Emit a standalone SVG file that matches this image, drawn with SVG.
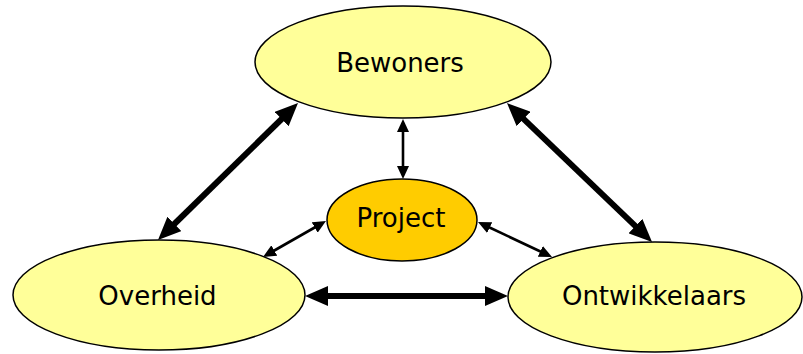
<svg xmlns="http://www.w3.org/2000/svg" width="803" height="354" viewBox="0 0 803 354">
<defs>
<style>
.node ellipse{stroke:#000;stroke-width:1.5}
.outer ellipse{fill:#FFFF99}
.center ellipse{fill:#FFCC00}
.node text{font-family:"DejaVu Sans","Verdana",sans-serif;font-size:26px;fill:#000;text-anchor:middle}
.thick{stroke:#000;stroke-width:6;fill:none;marker-start:url(#ah-big);marker-end:url(#ah-big)}
.thin{stroke:#000;stroke-width:2.6;fill:none;marker-start:url(#ah-small);marker-end:url(#ah-small)}
</style>
<marker id="ah-big" markerUnits="userSpaceOnUse" markerWidth="23" markerHeight="20" refX="8" refY="10" orient="auto-start-reverse" viewBox="0 0 23 20">
<path d="M0,0 L23,10 L0,20 z" fill="#000"/>
</marker>
<marker id="ah-small" markerUnits="userSpaceOnUse" markerWidth="13" markerHeight="12" refX="6" refY="6" orient="auto-start-reverse" viewBox="0 0 13 12">
<path d="M0,0 L13,6 L0,12 z" fill="#000"/>
</marker>
</defs>
<rect width="803" height="354" fill="#fff"/>
<g id="connectors">
<line class="thick" x1="320" y1="296" x2="493" y2="296"/>
<line class="thick" x1="287.3" y1="113.5" x2="168.7" y2="229.5"/>
<line class="thick" x1="517.8" y1="113.4" x2="641.2" y2="231.6"/>
<line class="thin" x1="403" y1="126" x2="403" y2="172"/>
<line class="thin" x1="319.9" y1="224.5" x2="269.1" y2="253.5"/>
<line class="thin" x1="484.3" y1="225" x2="545.7" y2="254"/>
</g>
<g id="bewoners" class="node outer">
<ellipse cx="403" cy="62" rx="148" ry="56"/>
<text x="400" y="72">Bewoners</text>
</g>
<g id="project" class="node center">
<ellipse cx="402" cy="220" rx="75" ry="41"/>
<text x="401" y="227">Project</text>
</g>
<g id="overheid" class="node outer">
<ellipse cx="159" cy="295" rx="146" ry="55"/>
<text x="157.5" y="305">Overheid</text>
</g>
<g id="ontwikkelaars" class="node outer">
<ellipse cx="655" cy="297" rx="147" ry="55"/>
<text x="654" y="305">Ontwikkelaars</text>
</g>
</svg>
